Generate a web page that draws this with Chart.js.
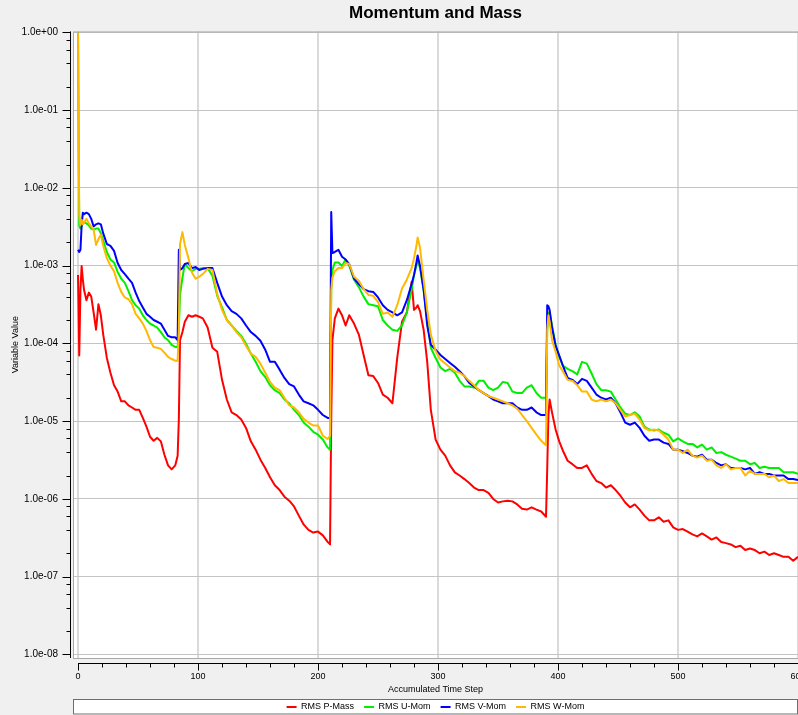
<!DOCTYPE html>
<html>
<head>
<meta charset="utf-8">
<title>Momentum and Mass</title>
<script src="https://cdn.jsdelivr.net/npm/chart.js@4.4.1/dist/chart.umd.min.js"></script>
<style>
  html, body { margin: 0; padding: 0; background: #f0f0f0; }
  canvas { display: block; }
</style>
</head>
<body>
<canvas id="chart" width="798" height="715"></canvas>
<script>
// accumulated time step (x) for every sample
const steps = [
  0, 1, 2, 3, 4, 5, 7, 9, 11, 13, 15, 17, 19, 21,
  24, 27, 30, 33, 36, 39, 42, 45, 48, 51, 54, 57, 60, 63, 66, 69, 72, 75, 78, 81,
  83, 84, 85, 87, 89, 92, 95, 98, 101, 104,
  108, 112, 116, 120, 124, 128, 132, 136, 140, 144, 148, 152, 156, 160, 164, 168, 172, 176, 180, 184, 188, 192, 196, 200, 204, 208,
  210, 211, 212, 214, 217, 220, 223, 226,
  230, 234, 238, 242, 246, 250, 254, 258, 262, 266, 270, 274, 278,
  280, 282, 283, 285, 288, 291, 294,
  298, 302, 306, 310, 314, 318, 322, 326, 330, 334, 338, 342, 346, 350, 354, 358, 362, 366, 370, 374, 378, 382, 386, 390,
  391, 392, 393, 395, 398, 401,
  404, 408, 412, 416, 420, 424, 428, 432, 436, 440, 444, 448, 452, 456, 460, 464, 468, 472, 476, 480,
  484, 488, 492, 496, 500, 504, 508, 512, 516, 520, 524, 528, 532, 536, 540, 544, 548, 552, 556, 560,
  564, 568, 572, 576, 580, 584, 588, 592, 596, 600
];

const pMass = [
  7.6e-4, 7.0e-5, 4.9e-4, 9.9e-4, 6.6e-4, 4.9e-4, 3.6e-4, 4.5e-4, 4.0e-4, 2.5e-4, 1.5e-4, 3.2e-4, 2.3e-4, 1.3e-4,
  6.5e-5, 4.2e-5, 2.9e-5, 2.4e-5, 1.8e-5, 1.8e-5, 1.6e-5, 1.5e-5, 1.4e-5, 1.4e-5, 1.1e-5, 8.5e-6, 6.3e-6, 5.6e-6, 6.1e-6, 5.5e-6, 3.7e-6, 2.7e-6, 2.4e-6, 2.7e-6,
  3.6e-6, 1.05e-5, 1.1e-4, 1.4e-4, 1.9e-4, 2.3e-4, 2.2e-4, 2.3e-4, 2.2e-4, 2.1e-4,
  1.6e-4, 8.8e-5, 7.8e-5, 3.4e-5, 1.9e-5, 1.3e-5, 1.2e-5, 1.05e-5, 8.2e-6, 5.5e-6, 4.3e-6, 3.2e-6, 2.5e-6, 1.9e-6, 1.5e-6, 1.3e-6, 1.07e-6, 9.5e-7, 8.0e-7, 6.1e-7, 4.7e-7, 4.0e-7, 3.7e-7, 3.8e-7, 3.4e-7, 2.8e-7,
  2.6e-7, 1.05e-5, 1.1e-4, 2.1e-4, 2.8e-4, 2.3e-4, 1.7e-4, 2.3e-4,
  1.8e-4, 1.3e-4, 7.1e-5, 3.9e-5, 3.8e-5, 3.1e-5, 2.2e-5, 2.0e-5, 1.7e-5, 6.5e-5, 1.9e-4, 2.5e-4, 6.2e-4,
  2.7e-4, 2.9e-4, 3.1e-4, 2.6e-4, 1.5e-4, 5.8e-5, 1.4e-5,
  5.8e-6, 4.3e-6, 3.6e-6, 2.7e-6, 2.2e-6, 2.0e-6, 1.8e-6, 1.6e-6, 1.4e-6, 1.3e-6, 1.3e-6, 1.2e-6, 1.0e-6, 9.0e-7, 9.3e-7, 9.5e-7, 9.3e-7, 8.5e-7, 7.5e-7, 7.3e-7, 7.8e-7, 7.3e-7, 6.9e-7, 5.9e-7,
  2.4e-6, 1.2e-5, 1.9e-5, 1.3e-5, 7.8e-6, 5.5e-6,
  4.2e-6, 3.1e-6, 2.8e-6, 2.5e-6, 2.5e-6, 2.7e-6, 2.1e-6, 1.7e-6, 1.6e-6, 1.4e-6, 1.5e-6, 1.3e-6, 1.1e-6, 9.0e-7, 7.8e-7, 8.5e-7, 7.3e-7, 6.1e-7, 5.3e-7, 5.3e-7,
  5.8e-7, 5.1e-7, 5.3e-7, 4.3e-7, 4.0e-7, 4.1e-7, 3.8e-7, 3.5e-7, 3.3e-7, 3.6e-7, 3.3e-7, 3.0e-7, 3.2e-7, 2.8e-7, 2.7e-7, 2.6e-7, 2.4e-7, 2.5e-7, 2.2e-7, 2.3e-7,
  2.2e-7, 2.0e-7, 2.1e-7, 1.9e-7, 2.0e-7, 1.9e-7, 1.8e-7, 1.8e-7, 1.6e-7, 1.8e-7
];

const uMom = [
  1.0, 3.3e-3, 3.0e-3, 3.2e-3, 3.6e-3, 3.6e-3, 3.5e-3, 3.3e-3, 3.0e-3, 2.9e-3, 3.0e-3, 3.0e-3, 2.6e-3, 2.1e-3,
  1.5e-3, 1.2e-3, 1.1e-3, 8.3e-4, 6.8e-4, 6.0e-4, 4.7e-4, 3.6e-4, 3.1e-4, 2.8e-4, 2.3e-4, 2.0e-4, 1.8e-4, 1.7e-4, 1.6e-4, 1.4e-4, 1.2e-4, 1.1e-4, 9.6e-5, 9.0e-5,
  9.0e-5, 1.5e-4, 4.2e-4, 7.0e-4, 1.05e-3, 9.3e-4, 8.5e-4, 9.1e-4, 9.1e-4, 9.3e-4,
  9.3e-4, 7.4e-4, 4.1e-4, 2.9e-4, 2.0e-4, 1.7e-4, 1.45e-4, 1.25e-4, 9.9e-5, 7.4e-5, 5.8e-5, 4.4e-5, 3.7e-5, 2.9e-5, 2.5e-5, 2.3e-5, 1.9e-5, 1.7e-5, 1.4e-5, 1.2e-5, 9.6e-6, 8.5e-6, 7.3e-6, 6.7e-6, 5.8e-6, 4.6e-6,
  4.3e-6, 4.9e-4, 8.8e-4, 1.1e-3, 1.1e-3, 9.9e-4, 1.2e-3, 1.0e-3,
  6.6e-4, 5.3e-4, 4.0e-4, 3.2e-4, 3.1e-4, 3.0e-4, 2.0e-4, 1.7e-4, 1.5e-4, 1.45e-4, 1.7e-4, 2.5e-4, 4.9e-4,
  7.6e-4, 1.0e-3, 1.2e-3, 9.3e-4, 4.9e-4, 2.0e-4, 8.8e-5,
  6.5e-5, 4.9e-5, 4.4e-5, 4.7e-5, 4.2e-5, 3.3e-5, 2.8e-5, 2.8e-5, 2.7e-5, 3.3e-5, 3.3e-5, 2.7e-5, 2.5e-5, 2.7e-5, 3.2e-5, 3.1e-5, 2.4e-5, 2.3e-5, 2.3e-5, 2.7e-5, 2.9e-5, 2.3e-5, 2.0e-5, 2.0e-5,
  1.5e-4, 2.5e-4, 2.5e-4, 1.7e-4, 9.6e-5, 6.7e-5,
  5.2e-5, 4.7e-5, 4.4e-5, 4.0e-5, 5.8e-5, 5.5e-5, 4.1e-5, 3.0e-5, 2.5e-5, 2.5e-5, 2.4e-5, 1.9e-5, 1.5e-5, 1.25e-5, 1.2e-5, 1.3e-5, 1.15e-5, 8.5e-6, 7.8e-6, 7.6e-6,
  7.8e-6, 7.1e-6, 6.7e-6, 5.5e-6, 6.0e-6, 5.5e-6, 5.1e-6, 5.1e-6, 4.6e-6, 5.0e-6, 4.3e-6, 4.6e-6, 3.9e-6, 4.0e-6, 3.7e-6, 3.5e-6, 3.3e-6, 3.1e-6, 3.1e-6, 2.8e-6,
  2.9e-6, 2.5e-6, 2.6e-6, 2.5e-6, 2.5e-6, 2.5e-6, 2.2e-6, 2.2e-6, 2.2e-6, 2.1e-6
];

const vMom = [
  1.6e-3, 1.5e-3, 1.6e-3, 3.3e-3, 4.8e-3, 4.6e-3, 4.8e-3, 4.6e-3, 4.0e-3, 3.2e-3, 3.4e-3, 3.5e-3, 3.4e-3, 2.6e-3,
  1.9e-3, 1.8e-3, 1.55e-3, 1.08e-3, 8.8e-4, 7.8e-4, 6.8e-4, 6.0e-4, 4.5e-4, 3.5e-4, 2.9e-4, 2.4e-4, 2.2e-4, 2.0e-4, 1.9e-4, 1.8e-4, 1.5e-4, 1.25e-4, 1.2e-4, 1.2e-4,
  1.1e-4, 1.6e-3, 8.8e-4, 9.3e-4, 1.05e-3, 1.08e-3, 9.3e-4, 9.6e-4, 8.8e-4, 9.1e-4,
  9.3e-4, 9.3e-4, 6.0e-4, 4.0e-4, 3.1e-4, 2.6e-4, 2.4e-4, 2.1e-4, 1.7e-4, 1.4e-4, 1.25e-4, 1.08e-4, 8.3e-5, 5.8e-5, 5.8e-5, 4.6e-5, 3.6e-5, 3.0e-5, 2.8e-5, 2.2e-5, 1.8e-5, 1.7e-5, 1.6e-5, 1.4e-5, 1.2e-5, 1.1e-5,
  1.1e-5, 4.9e-3, 1.45e-3, 1.5e-3, 1.6e-3, 1.3e-3, 1.2e-3, 1.05e-3,
  6.8e-4, 5.8e-4, 5.0e-4, 4.7e-4, 4.6e-4, 3.9e-4, 3.1e-4, 2.7e-4, 2.5e-4, 2.3e-4, 2.5e-4, 3.6e-4, 5.8e-4,
  7.6e-4, 1.1e-3, 1.35e-3, 1.0e-3, 4.9e-4, 1.7e-4, 9.6e-5,
  8.3e-5, 7.1e-5, 6.3e-5, 5.6e-5, 5.0e-5, 4.4e-5, 3.8e-5, 3.1e-5, 2.8e-5, 2.5e-5, 2.3e-5, 2.1e-5, 1.9e-5, 1.8e-5, 1.7e-5, 1.7e-5, 1.7e-5, 1.5e-5, 1.4e-5, 1.4e-5, 1.5e-5, 1.3e-5, 1.2e-5, 1.2e-5,
  3.1e-4, 3.0e-4, 2.7e-4, 1.6e-4, 9.3e-5, 7.0e-5,
  5.2e-5, 3.6e-5, 3.4e-5, 3.0e-5, 3.5e-5, 3.3e-5, 2.7e-5, 2.2e-5, 2.0e-5, 1.9e-5, 2.0e-5, 1.7e-5, 1.3e-5, 9.6e-6, 9.0e-6, 9.6e-6, 8.2e-6, 6.5e-6, 5.6e-6, 5.8e-6,
  5.8e-6, 5.3e-6, 5.1e-6, 4.3e-6, 4.3e-6, 4.1e-6, 3.9e-6, 3.6e-6, 3.5e-6, 3.7e-6, 3.2e-6, 3.2e-6, 2.9e-6, 2.7e-6, 2.8e-6, 2.5e-6, 2.5e-6, 2.5e-6, 2.4e-6, 2.5e-6,
  2.1e-6, 2.2e-6, 2.1e-6, 2.1e-6, 2.0e-6, 2.0e-6, 2.0e-6, 1.8e-6, 1.8e-6, 1.75e-6
];

const wMom = [
  1.0, 4.5e-3, 3.3e-3, 3.9e-3, 3.4e-3, 3.6e-3, 4.0e-3, 3.5e-3, 3.2e-3, 2.9e-3, 1.85e-3, 2.2e-3, 2.5e-3, 1.8e-3,
  1.25e-3, 1.0e-3, 8.5e-4, 6.0e-4, 4.6e-4, 3.9e-4, 3.7e-4, 3.2e-4, 2.4e-4, 2.1e-4, 1.8e-4, 1.45e-4, 1.1e-4, 9.0e-5, 8.8e-5, 8.5e-5, 7.6e-5, 6.7e-5, 6.3e-5, 6.0e-5,
  6.0e-5, 1.5e-4, 1.9e-3, 2.7e-3, 1.85e-3, 1.25e-3, 8.1e-4, 6.8e-4, 7.2e-4, 7.8e-4,
  9.1e-4, 8.8e-4, 4.3e-4, 2.7e-4, 2.0e-4, 1.7e-4, 1.4e-4, 1.2e-4, 9.3e-5, 7.4e-5, 6.7e-5, 5.5e-5, 4.2e-5, 3.2e-5, 2.7e-5, 2.5e-5, 2.0e-5, 1.6e-5, 1.5e-5, 1.3e-5, 1.07e-5, 9.6e-6, 8.8e-6, 8.8e-6, 6.5e-6, 5.9e-6,
  6.5e-6, 4.9e-4, 7.0e-4, 8.5e-4, 9.3e-4, 9.3e-4, 1.08e-3, 1.05e-3,
  7.2e-4, 6.4e-4, 5.0e-4, 4.2e-4, 4.1e-4, 3.4e-4, 2.4e-4, 2.5e-4, 2.2e-4, 3.1e-4, 5.1e-4, 6.6e-4, 9.3e-4,
  1.25e-3, 1.8e-3, 2.3e-3, 1.7e-3, 6.6e-4, 2.7e-4, 1.3e-4,
  8.0e-5, 6.2e-5, 5.5e-5, 4.9e-5, 4.4e-5, 4.2e-5, 3.8e-5, 3.3e-5, 2.9e-5, 2.5e-5, 2.3e-5, 2.1e-5, 2.0e-5, 1.9e-5, 1.8e-5, 1.7e-5, 1.6e-5, 1.45e-5, 1.2e-5, 1.0e-5, 8.2e-6, 6.7e-6, 5.6e-6, 4.9e-6,
  1.5e-4, 2.3e-4, 1.9e-4, 1.1e-4, 7.8e-5, 5.2e-5,
  4.4e-5, 3.4e-5, 3.3e-5, 2.9e-5, 2.4e-5, 2.4e-5, 1.9e-5, 1.8e-5, 1.9e-5, 1.8e-5, 1.9e-5, 1.7e-5, 1.4e-5, 1.15e-5, 1.2e-5, 1.25e-5, 1.05e-5, 8.2e-6, 7.6e-6, 7.8e-6,
  7.6e-6, 6.7e-6, 5.8e-6, 4.3e-6, 4.3e-6, 3.9e-6, 4.3e-6, 3.6e-6, 3.4e-6, 3.6e-6, 3.1e-6, 3.2e-6, 2.7e-6, 2.5e-6, 2.8e-6, 2.4e-6, 2.5e-6, 2.5e-6, 2.0e-6, 2.3e-6,
  2.1e-6, 2.1e-6, 2.1e-6, 1.9e-6, 2.0e-6, 1.7e-6, 1.8e-6, 1.6e-6, 1.6e-6, 1.6e-6
];

// axis ticks
const yDecades = [1e-8, 1e-7, 1e-6, 1e-5, 1e-4, 1e-3, 1e-2, 1e-1, 1e0];
const yMinorFactors = [2, 4, 6, 8];
const xMajorTicks = [0, 100, 200, 300, 400, 500, 600];
const xMinorStep = 20;

[pMass, uMom, vMom, wMom].forEach((s, i) => {
  if (s.length !== steps.length) throw new Error('series ' + i + ' has ' + s.length + ' values, expected ' + steps.length);
});

const fontFamily = "'Liberation Sans', Arial, sans-serif";
Chart.defaults.font.family = fontFamily;
Chart.defaults.color = '#000';

const yTicks = [];
yDecades.forEach((d, i) => {
  yTicks.push({ value: d, major: true });
  if (i < yDecades.length - 1) yMinorFactors.forEach(f => yTicks.push({ value: f * d, major: false }));
});
const xTicks = [];
for (let v = xMajorTicks[0]; v <= xMajorTicks[xMajorTicks.length - 1]; v += xMinorStep) {
  xTicks.push({ value: v, major: xMajorTicks.includes(v) });
}

const sci = (v) => {
  const e = Math.round(Math.log10(v));
  const m = v / Math.pow(10, e);
  return m.toFixed(1) + 'e' + (e < 0 ? '-' : '+') + String(Math.abs(e)).padStart(2, '0');
};

const series = (label, values, color, order) => ({
  label,
  data: steps.map((s, i) => ({ x: s, y: values[i] })),
  borderColor: color,
  backgroundColor: color,
  borderWidth: 2,
  borderJoinStyle: 'round',
  pointRadius: 0,
  pointHoverRadius: 0,
  tension: 0,
  fill: false,
  order
});

const frame = {
  id: 'frame',
  beforeDraw(chart) {
    const { ctx, chartArea: a, width, height } = chart;
    ctx.save();
    ctx.fillStyle = '#f0f0f0';
    ctx.fillRect(0, 0, width, height);
    ctx.fillStyle = '#ffffff';
    ctx.fillRect(a.left, a.top, a.right - a.left, a.bottom - a.top);
    const lg = chart.legend;
    const top = Math.round(lg.top + lg.height / 2 - 8.5) + 0.5;
    ctx.fillRect(lg.left, top, lg.right - lg.left, height - top);
    ctx.strokeStyle = '#6e6e6e';
    ctx.lineWidth = 1;
    ctx.strokeRect(lg.left + 0.5, top, lg.right - lg.left - 1, height - top - 1);
    ctx.restore();
  },
  afterDraw(chart) {
    const { ctx, chartArea: a } = chart;
    const xs = chart.scales.x, ys = chart.scales.y;
    ctx.save();
    ctx.lineWidth = 1;
    // plot frame
    ctx.strokeStyle = '#a9a9a9';
    ctx.strokeRect(a.left + 0.5, a.top + 0.5, a.right - a.left, a.bottom - a.top);
    // y axis
    ctx.strokeStyle = '#000';
    const ax = a.left - 2.5;
    ctx.beginPath();
    ctx.moveTo(ax, a.top);
    ctx.lineTo(ax, a.bottom);
    ys.ticks.forEach(t => {
      const py = Math.round(ys.getPixelForValue(t.value)) + 0.5;
      ctx.moveTo(ax - (t.major ? 8 : 4), py);
      ctx.lineTo(ax, py);
    });
    // x axis
    const ay = a.bottom + 5.5;
    ctx.moveTo(Math.round(xs.getPixelForValue(0)), ay);
    ctx.lineTo(a.right, ay);
    xs.ticks.forEach(t => {
      const px = Math.round(xs.getPixelForValue(t.value)) + 0.5;
      ctx.moveTo(px, ay);
      ctx.lineTo(px, ay + (t.major ? 7 : 4));
    });
    ctx.stroke();
    ctx.restore();
  }
};

new Chart(document.getElementById('chart'), {
  type: 'line',
  data: {
    datasets: [
      series('RMS P-Mass', pMass, '#ff0000', 3),
      series('RMS U-Mom', uMom, '#00ee00', 2),
      series('RMS V-Mom', vMom, '#0000ff', 1),
      series('RMS W-Mom', wMom, '#ffb900', 0)
    ]
  },
  options: {
    responsive: false,
    animation: false,
    events: [],
    layout: { padding: { top: 0, left: 0, right: 0, bottom: -6.5 } },
    plugins: {
      title: {
        display: true,
        text: 'Momentum and Mass',
        fullSize: false,
        color: '#000',
        font: { size: 17, weight: 'bold' },
        padding: { top: 3, bottom: 8 }
      },
      legend: {
        position: 'bottom',
        fullSize: false,
        labels: {
          usePointStyle: true,
          pointStyle: 'line',
          pointStyleWidth: 10,
          padding: 10,
          color: '#000',
          font: { size: 9 },
          sort: (a, b) => a.datasetIndex - b.datasetIndex
        }
      },
      tooltip: { enabled: false }
    },
    scales: {
      x: {
        type: 'linear',
        min: -4.2,
        max: 600,
        afterBuildTicks: (s) => { s.ticks = xTicks.map(t => ({ ...t })); },
        afterFit: (s) => { s.height = 34.5; s.paddingLeft = 0; s.paddingRight = 0; },
        border: { display: false },
        grid: {
          drawTicks: false,
          lineWidth: 2,
          color: (c) => (c.tick && c.tick.major ? '#dadada' : 'rgba(0,0,0,0)')
        },
        ticks: {
          autoSkip: false,
          maxRotation: 0,
          padding: 13,
          font: { size: 9 },
          callback: (v, i, t) => (t[i].major ? String(v) : '')
        },
        title: {
          display: true,
          text: 'Accumulated Time Step',
          font: { size: 9 },
          padding: { top: 0, bottom: -2 }
        }
      },
      y: {
        type: 'logarithmic',
        min: 9.26e-9,
        max: 1.03,
        afterBuildTicks: (s) => { s.ticks = yTicks.map(t => ({ ...t })); },
        afterFit: (s) => { s.width = 73; s.paddingTop = 0; s.paddingBottom = 0; },
        border: { display: false },
        grid: {
          drawTicks: false,
          lineWidth: 1,
          color: (c) => (c.tick && c.tick.major ? '#c4c4c4' : 'rgba(0,0,0,0)')
        },
        ticks: {
          autoSkip: false,
          padding: 15,
          font: { size: 10 },
          callback: (v, i, t) => (t[i].major ? sci(v) : '')
        },
        title: {
          display: true,
          text: 'Variable Value',
          font: { size: 9 },
          padding: { top: 10, bottom: 0 }
        }
      }
    }
  },
  plugins: [frame]
});
</script>
</body>
</html>
